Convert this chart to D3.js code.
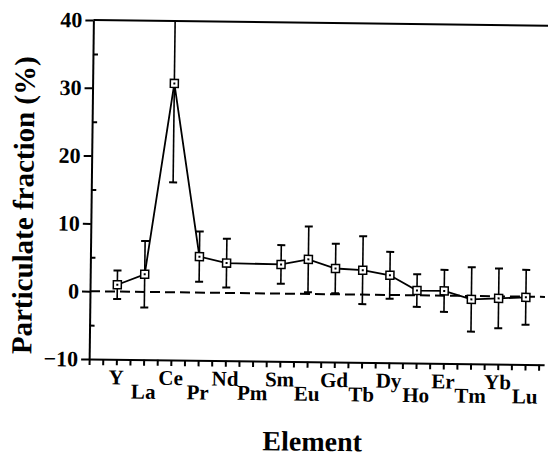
<!DOCTYPE html>
<html lang="en">
<head>
  <meta charset="UTF-8">
  <title>Particulate fraction by element</title>
  <style type="text/css">
    body {
      margin: 0;
      background: white;
    }
    svg text {
      font-family: "Liberation Serif", "DejaVu Serif", Times, serif;
      font-weight: bold;
      fill: black;
    }
    .axis path, .axis line {
      fill: none;
      stroke: black;
      stroke-width: 2px;
    }
    .axis text {
      font-size: 22px;
    }
    .label {
      font-size: 29px;
    }
    .xlabel {
      font-size: 28px;
    }
    .elem {
      font-size: 21px;
    }
  </style>
  <script src="https://cdn.jsdelivr.net/npm/d3@7"></script>
</head>
<body>
<div class="main"></div>
<script>
  var elements = ["Y", "La", "Ce", "Pr", "Nd", "Pm", "Sm", "Eu", "Gd", "Tb", "Dy", "Ho", "Er", "Tm", "Yb", "Lu"];
  var fraction = [1.0, 2.6, 30.8, 5.3, 4.4, null, 4.3, 5.1, 3.8, 3.6, 2.9, 0.7, 0.7, -0.5, -0.3, -0.1];
  var errors   = [2.1, 4.9, 14.6, 3.7, 3.6, null, 2.85, 4.85, 3.65, 5.0, 3.45, 2.4, 3.1, 4.75, 4.4, 4.05];
  var yTicks = [-10, 0, 10, 20, 30, 40];
  var yMinorTicks = [-5, 5, 15, 25, 35];

  var margin = {top: 20, right: 3, bottom: 99, left: 90},
      width = 548 - margin.left - margin.right,
      height = 458 - margin.top - margin.bottom;

  // element index -> display (one empty slot left of Y)
  var x = d3.scaleLinear().domain([-1, 15.7]).range([0, width]);
  var y = d3.scaleLinear().domain([-10, 40]).range([height, 0]);

  var points = [];
  elements.forEach(function(e, i) {
    if (fraction[i] != null) points.push({i: i, v: fraction[i], err: errors[i]});
  });

  var svg = d3.select(".main").append("svg")
      .attr("width", 548)
      .attr("height", 458);

  // the scanned figure sits slightly rotated
  var g = svg.append("g")
      .attr("transform", "rotate(0.72,90,291)")
    .append("g")
      .attr("transform", "translate(" + margin.left + "," + margin.top + ")");

  g.append("clipPath").attr("id", "plot-clip")
    .append("rect")
      .attr("x", -10).attr("y", 0)
      .attr("width", width + 20).attr("height", height);

  // x axis: ticks every half element
  var xTickVals = d3.range(-1, 15.6, 0.5);
  g.append("g")
      .attr("class", "x axis")
      .attr("transform", "translate(0," + height + ")")
      .call(d3.axisBottom(x).tickValues(xTickVals).tickSize(6).tickSizeOuter(0).tickFormat(""));

  // y axis, major ticks outside, minor ticks inside
  g.append("g")
      .attr("class", "y axis")
      .call(d3.axisLeft(y).tickValues(yTicks).tickSize(8).tickSizeOuter(0).tickPadding(3));
  g.append("g")
      .attr("class", "y axis minor")
      .call(d3.axisLeft(y).tickValues(yMinorTicks).tickSize(-5).tickFormat(""))
      .select(".domain").remove();

  // top frame line
  g.append("line")
      .attr("x1", 0).attr("x2", width)
      .attr("y1", y(40)).attr("y2", y(40))
      .attr("stroke", "black").attr("stroke-width", 2);

  // zero reference
  g.append("line")
      .attr("x1", 0).attr("x2", width)
      .attr("y1", y(0)).attr("y2", y(0))
      .attr("stroke", "black").attr("stroke-width", 2)
      .attr("stroke-dasharray", "10,5");

  var plot = g.append("g").attr("clip-path", "url(#plot-clip)");

  // connecting line
  var line = d3.line()
      .x(function(d) { return x(d.i); })
      .y(function(d) { return y(d.v); });
  plot.append("path")
      .datum(points)
      .attr("d", line)
      .attr("fill", "none")
      .attr("stroke", "black")
      .attr("stroke-width", 1.8);

  // error bars
  var bars = plot.selectAll(".err")
      .data(points)
    .enter().append("g")
      .attr("class", "err")
      .attr("stroke", "black");
  bars.append("line")
      .attr("x1", function(d) { return x(d.i); })
      .attr("x2", function(d) { return x(d.i); })
      .attr("y1", function(d) { return y(d.v + d.err); })
      .attr("y2", function(d) { return y(d.v - d.err); })
      .attr("stroke-width", 1.6);
  bars.selectAll(".cap")
      .data(function(d) { return [d.v + d.err, d.v - d.err].map(function(v) { return {i: d.i, v: v}; }); })
    .enter().append("line")
      .attr("class", "cap")
      .attr("x1", function(d) { return x(d.i) - 4; })
      .attr("x2", function(d) { return x(d.i) + 4; })
      .attr("y1", function(d) { return y(d.v); })
      .attr("y2", function(d) { return y(d.v); })
      .attr("stroke-width", 2);

  // open square markers with a centre dot
  var marks = g.selectAll(".mark")
      .data(points)
    .enter().append("g")
      .attr("class", "mark")
      .attr("transform", function(d) { return "translate(" + x(d.i) + "," + y(d.v) + ")"; });
  marks.append("rect")
      .attr("x", -4).attr("y", -4)
      .attr("width", 8).attr("height", 8)
      .attr("fill", "white")
      .attr("stroke", "black")
      .attr("stroke-width", 1.5);
  marks.append("rect")
      .attr("x", -1).attr("y", -1)
      .attr("width", 2).attr("height", 2)
      .attr("fill", "black");

  // element names, staggered in two rows
  g.selectAll(".elem")
      .data(elements)
    .enter().append("text")
      .attr("class", "elem")
      .attr("x", function(d, i) { return x(i); })
      .attr("y", function(d, i) { return i % 2 === 0 ? height + 25 : height + 39; })
      .attr("text-anchor", "middle")
      .text(function(d) { return d; });

  // axis titles
  g.append("text")
      .attr("class", "label xlabel")
      .attr("x", 224)
      .attr("y", 428)
      .attr("text-anchor", "middle")
      .text("Element");

  g.append("text")
      .attr("class", "label")
      .attr("transform", "rotate(-90)")
      .attr("x", -186)
      .attr("y", -58)
      .attr("text-anchor", "middle")
      .text("Particulate fraction (%)");
</script>
</body>
</html>
